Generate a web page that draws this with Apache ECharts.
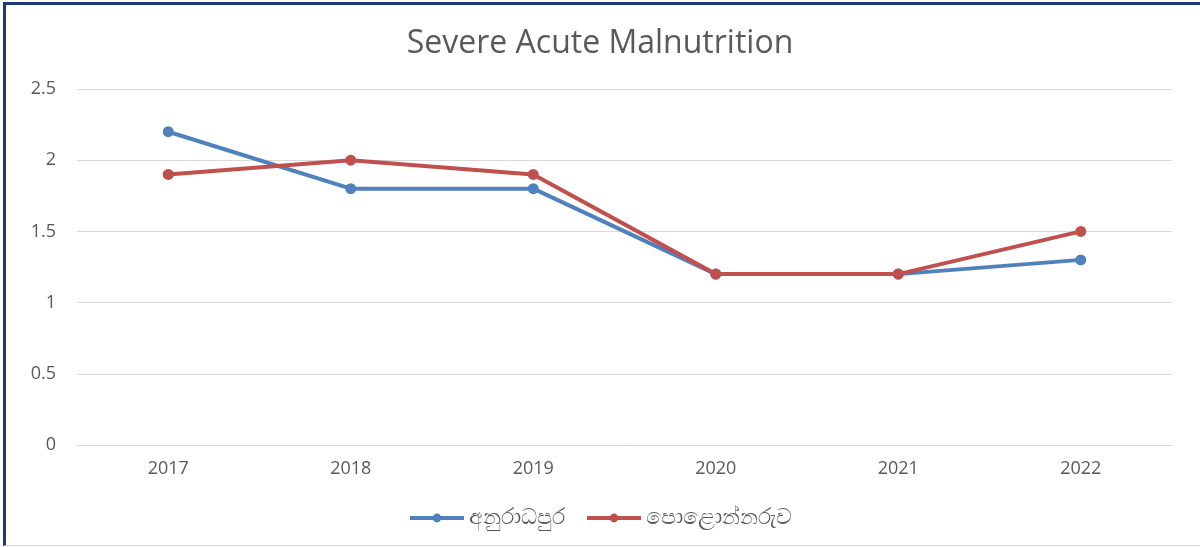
<!DOCTYPE html>
<html>
<head>
<meta charset="utf-8">
<script src="https://cdn.jsdelivr.net/npm/echarts@6/dist/echarts.min.js"></script>
<style>
html, body { margin: 0; padding: 0; background: #fff; }
#frame {
	position: absolute; left: 3px; top: 2px; width: 1197px; height: 544px;
	border-top: 3px solid #1f3a78; border-left: 3px solid #1f3a78; border-bottom: 1px solid #d9d9d9;
	box-sizing: border-box;
}
#chart { position: absolute; left: 0; top: 0; width: 1200px; height: 547px; }
</style>
</head>
<body>
<div id="frame"></div>
<div id="chart"></div>
<script>
// values
var years = ['2017', '2018', '2019', '2020', '2021', '2022'];
var anuradhapura = [2.2, 1.8, 1.8, 1.2, 1.2, 1.3];
var polonnaruwa = [1.9, 2.0, 1.9, 1.2, 1.2, 1.5];
var seriesNames = ['අනුරාධපුර', 'පොළොන්නරුව'];

var chart = echarts.init(document.getElementById('chart'));
var txt = '#595959';

chart.setOption({
	animation: false,
	title: {
		text: 'Severe Acute Malnutrition',
		left: 'center',
		top: 23,
		textStyle: { fontFamily: 'Open Sans', fontWeight: 'normal', fontSize: 32, color: txt }
	},
	legend: {
		bottom: 13,
		left: 'center',
		itemWidth: 54,
		itemHeight: 11,
		itemGap: 20,
		lineStyle: { width: 4 },
		textStyle: { fontFamily: 'Noto Sans, Open Sans', fontSize: 22, color: txt },
		data: seriesNames
	},
	grid: { left: 77, right: 28, top: 89, bottom: 102, containLabel: false },
	xAxis: {
		type: 'category',
		data: years,
		boundaryGap: true,
		axisLine: { lineStyle: { color: '#d9d9d9' } },
		axisTick: { show: false },
		axisLabel: { fontFamily: 'Open Sans', fontSize: 18, color: txt, margin: 15 }
	},
	yAxis: {
		type: 'value',
		min: 0,
		max: 2.5,
		interval: 0.5,
		axisLine: { show: false },
		axisTick: { show: false },
		axisLabel: { fontFamily: 'Open Sans', fontSize: 18, color: txt, margin: 21 },
		splitLine: { lineStyle: { color: '#d9d9d9' } }
	},
	series: [
		{
			name: seriesNames[0],
			type: 'line',
			data: anuradhapura,
			symbol: 'circle',
			symbolSize: 11,
			lineStyle: { width: 4, color: '#4f81bd' },
			itemStyle: { color: '#4f81bd' }
		},
		{
			name: seriesNames[1],
			type: 'line',
			data: polonnaruwa,
			symbol: 'circle',
			symbolSize: 11,
			lineStyle: { width: 4, color: '#c0504d' },
			itemStyle: { color: '#c0504d' }
		}
	]
});
</script>
</body>
</html>
